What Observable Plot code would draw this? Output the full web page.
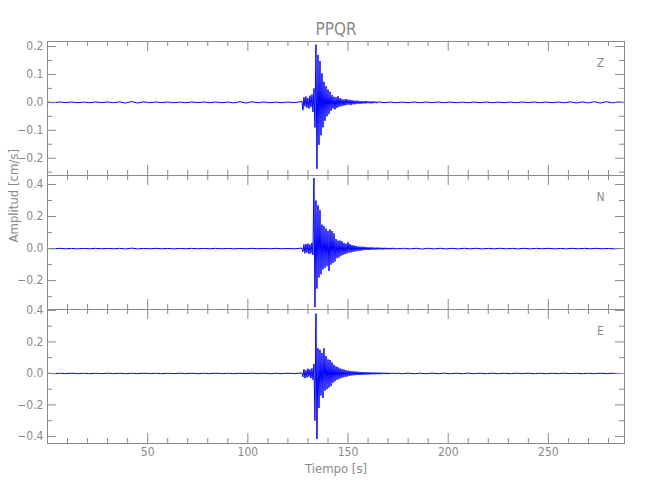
<!DOCTYPE html>
<html><head><meta charset="utf-8">
<script src="https://cdn.jsdelivr.net/npm/d3@7"></script>
<script src="https://cdn.jsdelivr.net/npm/@observablehq/plot@0.6"></script>
<style>
body{margin:0;background:#fff;}
#chart{position:relative;width:650px;height:500px;background:#fff;}
#chart svg{position:absolute;left:0;overflow:visible;}
</style></head><body><div id="chart"></div>
<script>
// ---- data (cm/s) ----
const stationName = "PPQR";
const components = ["Z", "N", "E"];
const xMajorTicks = [50, 100, 150, 200, 250];
const xMinorTicks = [10,20,30,40,60,70,80,90,110,120,130,140,160,170,180,190,210,220,230,240,260,270,280];

// Z: quiet 0..126 (every 3 s), burst 127..165 (every 0.5 s), quiet 168..288 (every 3 s)
const zPre = [0.0008,-0.0012,0.0012,-0.0008,0.0012,-0.0012,0.0008,-0.0012,0.0012,-0.0008,
0.0012,-0.0012,0.002,-0.0025,0.003,-0.0025,0.002,-0.0012,0.0012,-0.0008,
0.0012,-0.0012,0.0008,-0.0012,0.0012,-0.0008,0.0012,-0.0012,0.0012,-0.0012,
0.0012,-0.002,0.0025,-0.0025,0.002,-0.0012,0.0012,-0.0012,0.0008,-0.0012,
0.0012,-0.0012,0.002];
const zBurst = [0.004,-0.028,0.018,-0.014,0.021,-0.019,0.015,-0.022,0.024,-0.017,
0.028,-0.034,0.05,-0.09,0.207,-0.238,0.17,-0.152,0.148,-0.118,
0.104,-0.09,0.074,-0.066,0.058,-0.05,0.046,-0.041,0.038,-0.03,
0.026,-0.022,0.02,-0.025,0.018,-0.02,0.022,-0.016,0.015,-0.014,
0.012,-0.012,0.01,-0.011,0.012,-0.009,0.01,-0.008,0.009,-0.01,
0.008,-0.007,0.006,-0.007,0.006,-0.005,0.006,-0.005,0.004,-0.005,
0.005,-0.004,0.004,-0.004,0.005,-0.003,0.004,-0.003,0.003,-0.004,
0.003,-0.003,0.004,-0.002,0.003,-0.003,0.002];
const zPost = [-0.0012,0.0012,-0.0012,0.0008,-0.0012,0.0012,-0.0012,0.0012,-0.0008,0.0012,
-0.0012,0.0012,-0.0012,0.0008,-0.0012,0.0012,-0.0012,0.0012,-0.0012,0.0008,
-0.0012,0.0012,-0.0012,0.0012,-0.0008,0.0012,-0.0012,0.0012,-0.0012,0.0012,
-0.0012,0.002,-0.002,0.0015,-0.002,0.0025,-0.0025,0.0025,-0.002,0.0015,
-0.0012];

// N: quiet 0..126, burst 127..178, quiet 181..286
const nPre = [0.001,-0.001,0.0015,-0.001,0.001,-0.0015,0.001,-0.001,0.0015,-0.001,
0.001,-0.001,0.0015,-0.002,0.003,-0.002,0.001,-0.001,0.0015,-0.001,
0.001,-0.0015,0.001,-0.001,0.0015,-0.001,0.001,-0.001,0.0015,-0.001,
0.001,-0.0015,0.001,-0.001,0.0015,-0.001,0.001,-0.001,0.0015,-0.001,
0.001,-0.0015,0.002];
const nBurst = [0.003,-0.02,0.026,-0.03,0.028,-0.025,0.031,-0.033,0.026,-0.03,
0.036,-0.04,0.44,-0.365,0.3,-0.25,0.27,-0.18,0.24,-0.16,
0.15,-0.13,0.14,-0.12,0.125,-0.11,0.11,-0.14,0.12,-0.1,
0.11,-0.09,0.095,-0.08,0.06,-0.06,0.05,-0.055,0.05,-0.045,
0.045,-0.04,0.035,-0.035,0.03,-0.03,0.04,-0.025,0.028,-0.024,
0.022,-0.02,0.02,-0.018,0.016,-0.016,0.014,-0.013,0.012,-0.013,
0.012,-0.01,0.011,-0.009,0.01,-0.009,0.008,-0.009,0.008,-0.007,
0.008,-0.006,0.007,-0.007,0.006,-0.006,0.007,-0.005,0.006,-0.005,
0.005,-0.006,0.005,-0.004,0.005,-0.004,0.004,-0.005,0.004,-0.004,
0.005,-0.003,0.004,-0.004,0.003,-0.004,0.003,-0.003,0.004,-0.003,
0.003,-0.003,0.002];
const nPost = [-0.002,0.002,-0.003,0.002,-0.002,0.002,-0.002,0.0015,-0.002,0.002,
-0.0015,0.002,-0.002,0.0015,-0.0015,0.002,-0.0015,0.0015,-0.002,0.0015,
-0.0015,0.0015,-0.001,0.0015,-0.0015,0.001,-0.0015,0.0015,-0.001,0.0015,
-0.001,0.0015,-0.001,0.001,-0.0015,0.001];

// E: quiet 0..126, burst 127..175, quiet 177..285
const ePre = [0.001,-0.0015,0.001,-0.001,0.0015,-0.001,0.001,-0.0015,0.001,-0.001,
0.0015,-0.001,0.001,-0.0015,0.001,-0.001,0.0015,-0.001,0.001,-0.0015,
0.001,-0.001,0.0015,-0.001,0.001,-0.0015,0.001,-0.001,0.0015,-0.001,
0.001,-0.0015,0.001,-0.001,0.0015,-0.001,0.001,-0.0015,0.001,-0.001,
0.0015,-0.001,0.002];
const eBurst = [0.003,-0.022,0.026,-0.03,0.02,-0.026,0.03,-0.02,0.025,-0.03,
0.032,-0.04,0.06,-0.3,0.38,-0.417,0.16,-0.22,0.15,-0.14,
0.13,-0.156,0.16,-0.11,0.11,-0.1,0.09,-0.09,0.085,-0.08,
0.07,-0.06,0.055,-0.05,0.045,-0.04,0.04,-0.035,0.032,-0.03,
0.028,-0.025,0.025,-0.022,0.02,-0.02,0.018,-0.016,0.016,-0.014,
0.014,-0.012,0.013,-0.011,0.012,-0.01,0.011,-0.01,0.009,-0.01,
0.009,-0.008,0.009,-0.008,0.008,-0.007,0.008,-0.007,0.007,-0.006,
0.007,-0.006,0.006,-0.006,0.006,-0.005,0.006,-0.005,0.005,-0.005,
0.005,-0.004,0.005,-0.004,0.004,-0.005,0.004,-0.004,0.004,-0.003,
0.004,-0.003,0.003,-0.004,0.003,-0.003,0.002];
const ePost = [-0.002,0.002,-0.002,0.0015,-0.002,0.002,-0.0015,0.002,-0.002,0.0015,
-0.0015,0.002,-0.0015,0.0015,-0.002,0.0015,-0.0015,0.001,-0.0015,0.0015,
-0.001,0.0015,-0.0015,0.001,-0.0015,0.001,-0.001,0.0015,-0.001,0.001,
-0.0015,0.001,-0.001,0.0015,-0.001,0.001,-0.001];

const zDomain = [-0.262, 0.218], zMajor = [-0.2,-0.1,0,0.1,0.2], zMinor = [-0.25,-0.15,-0.05,0.05,0.15];
const nDomain = [-0.38, 0.456],  nMajor = [-0.2,0,0.2,0.4],     nMinor = [-0.3,-0.1,0.1,0.3];
const eDomain = [-0.445, 0.406], eMajor = [-0.4,-0.2,0,0.2,0.4], eMinor = [-0.3,-0.1,0.1,0.3];

// ---- build ----
function build(segments) {
  return segments.flatMap(([start, step, vals]) => vals.map((v, i) => ({t: start + i * step, v})));
}
const W = 650, ML = 47, MR = 26, PH = 134;
const FW = W - ML - MR;
const GRAY = "#8a8a8a";
const FONT = "'Liberation Sans Narrow', 'DejaVu Sans Condensed', sans-serif";

function panel({data, domain, major, minor, name, top, marginTop, marginBottom, extra = []}) {
  const fmt = d3.format(".1f");
  const svg = Plot.plot({
    width: W, height: PH + marginTop + marginBottom,
    marginLeft: ML, marginRight: MR, marginTop, marginBottom,
    style: {background: "transparent", overflow: "visible", fontFamily: FONT, fontSize: "12px", color: GRAY},
    x: {domain: [0, 288], axis: null},
    y: {domain, axis: null},
    marks: [
      Plot.lineY(data, {x: "t", y: "v", stroke: "#0000ff", strokeWidth: 1}),
      Plot.frame({stroke: GRAY}),
      Plot.tickX(xMajorTicks, {x: d => d, stroke: GRAY, insetTop: PH - 10}),
      Plot.tickX(xMinorTicks, {x: d => d, stroke: GRAY, insetTop: PH - 5}),
      Plot.tickX(xMajorTicks, {x: d => d, stroke: GRAY, insetBottom: PH - 10}),
      Plot.tickX(xMinorTicks, {x: d => d, stroke: GRAY, insetBottom: PH - 5}),
      Plot.tickY(major, {y: d => d, stroke: GRAY, insetRight: FW - 9}),
      Plot.tickY(minor, {y: d => d, stroke: GRAY, insetRight: FW - 5}),
      Plot.tickY(major, {y: d => d, stroke: GRAY, insetLeft: FW - 9}),
      Plot.tickY(minor, {y: d => d, stroke: GRAY, insetLeft: FW - 5}),
      Plot.axisY({anchor: "left", ticks: major, tickSize: 0, tickPadding: 4, tickFormat: fmt, label: null}),
      Plot.text([name], {text: d => d, frameAnchor: "top-right", dx: -24, dy: 17, textAnchor: "middle", fill: GRAY, fontSize: 12}),
      ...extra
    ]
  });
  svg.style.top = top + "px";
  document.getElementById("chart").appendChild(svg);
}

panel({
  data: build([[0, 3, zPre], [127, 0.5, zBurst], [168, 3, zPost]]),
  domain: zDomain, major: zMajor, minor: zMinor, name: components[0],
  top: 0, marginTop: 41, marginBottom: 0,
  extra: [Plot.text([stationName], {text: d => d, frameAnchor: "top", dy: -19, fontSize: 17, fill: GRAY})]
});
panel({
  data: build([[0, 3, nPre], [127, 0.5, nBurst], [181, 3, nPost]]),
  domain: nDomain, major: nMajor, minor: nMinor, name: components[1],
  top: 175, marginTop: 0, marginBottom: 0,
  extra: [Plot.text(["Amplitud [cm/s]"], {text: d => d, frameAnchor: "left", dx: -34, dy: 0, rotate: -90, fontSize: 13, fill: GRAY})]
});
panel({
  data: build([[0, 3, ePre], [127, 0.5, eBurst], [177, 3, ePost]]),
  domain: eDomain, major: eMajor, minor: eMinor, name: components[2],
  top: 309, marginTop: 0, marginBottom: 57,
  extra: [
    Plot.axisX({anchor: "bottom", ticks: xMajorTicks, tickSize: 0, tickPadding: 4, label: null}),
    Plot.text(["Tiempo [s]"], {text: d => d, frameAnchor: "bottom", dy: 29, fontSize: 13, fill: GRAY})
  ]
});
</script></body></html>
